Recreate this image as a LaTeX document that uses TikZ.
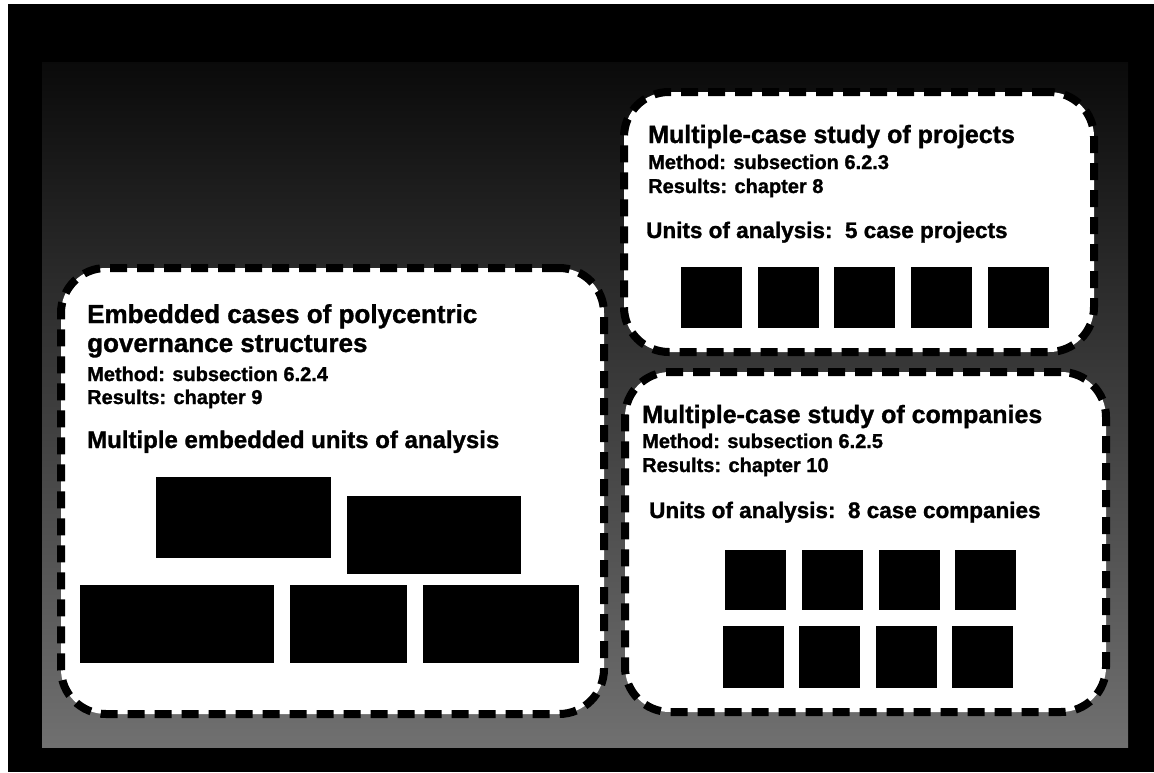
\documentclass[tikz,border=0pt]{standalone}
\usepackage{fontspec}
\setmainfont{Liberation Sans}[BoldFeatures={FakeBold=1.2}]
\begin{document}
\begin{tikzpicture}[x=1pt,y=-1pt,
  casebox/.style={draw=black, fill=white, line width=8pt,
    dash pattern=on 17pt off 10pt, rounded corners=45pt,
    rectangle, inner sep=0pt},
  unitbox/.style={fill=black, draw=none, rectangle, inner sep=0pt, anchor=north west},
  sq/.style={unitbox, minimum width=61pt, minimum height=61pt},
  titletext/.style={anchor=base west, inner sep=0pt,
    font=\fontsize{25pt}{30pt}\selectfont\bfseries},
  subtext/.style={anchor=base west, inner sep=0pt,
    font=\fontsize{20pt}{24pt}\selectfont\bfseries},
  unittext/.style={anchor=base west, inner sep=0pt,
    font=\fontsize{22.5pt}{27pt}\selectfont\bfseries},
]
\useasboundingbox (0,0) rectangle (1154,772);
% frame and textured backdrop
\fill[white] (0,0) rectangle (1154,772);
\fill[black] (8,4) rectangle (1154,772);
\shade[top color=black!96, middle color=black!68, bottom color=black!56]
  (42,62) rectangle (1128,747);

% ---- embedded cases ----
\node[casebox, minimum width=543pt, minimum height=446pt] (embbox) at (332.5,491) {};
\node[titletext, font=\fontsize{26pt}{31pt}\selectfont\bfseries] (embt1) at (87,323) {Embedded cases of polycentric};
\node[titletext, font=\fontsize{26pt}{31pt}\selectfont\bfseries] (embt2) at (87,352) {governance structures};
\node[subtext] (embm) at (87,381) {Method: subsection 6.2.4};
\node[subtext] (embr) at (87,404) {Results: chapter 9};
\node[unittext, font=\fontsize{24pt}{28pt}\selectfont\bfseries] (embu) at (87,448) {Multiple embedded units of analysis};
\node[unitbox, minimum width=175pt, minimum height=81pt] (ea) at (156,477) {};
\node[unitbox, minimum width=174pt, minimum height=78pt] (eb) at (347,496) {};
\node[unitbox, minimum width=194pt, minimum height=78pt] (ec) at (80,585) {};
\node[unitbox, minimum width=117pt, minimum height=78pt] (ed) at (290,585) {};
\node[unitbox, minimum width=156pt, minimum height=78pt] (ee) at (423,585) {};

% ---- case projects ----
\node[casebox, minimum width=470pt, minimum height=260pt] (projbox) at (859,222) {};
\node[titletext] (projt) at (648,143) {Multiple-case study of projects};
\node[subtext] (projm) at (648,169) {Method: subsection 6.2.3};
\node[subtext] (projr) at (648,193) {Results: chapter 8};
\node[unittext] (proju) at (646,238) {Units of analysis:\ \ 5 case projects};
\foreach \i/\x in {1/681,2/758,3/834,4/911,5/988}
  \node[sq] (p\i) at (\x,267) {};

% ---- case companies ----
\node[casebox, minimum width=481pt, minimum height=340pt] (compbox) at (865.5,542) {};
\node[titletext] (compt) at (642,423) {Multiple-case study of companies};
\node[subtext] (compm) at (642,448) {Method: subsection 6.2.5};
\node[subtext] (compr) at (642,472) {Results: chapter 10};
\node[unittext] (compu) at (649,518) {Units of analysis:\ \ 8 case companies};
\foreach \i/\x in {1/725,2/802,3/879,4/955}
  \node[sq, minimum height=60pt] (ca\i) at (\x,550) {};
\foreach \i/\x in {1/723,2/799,3/876,4/952}
  \node[sq, minimum height=62pt] (cb\i) at (\x,626) {};
\end{tikzpicture}
\end{document}
